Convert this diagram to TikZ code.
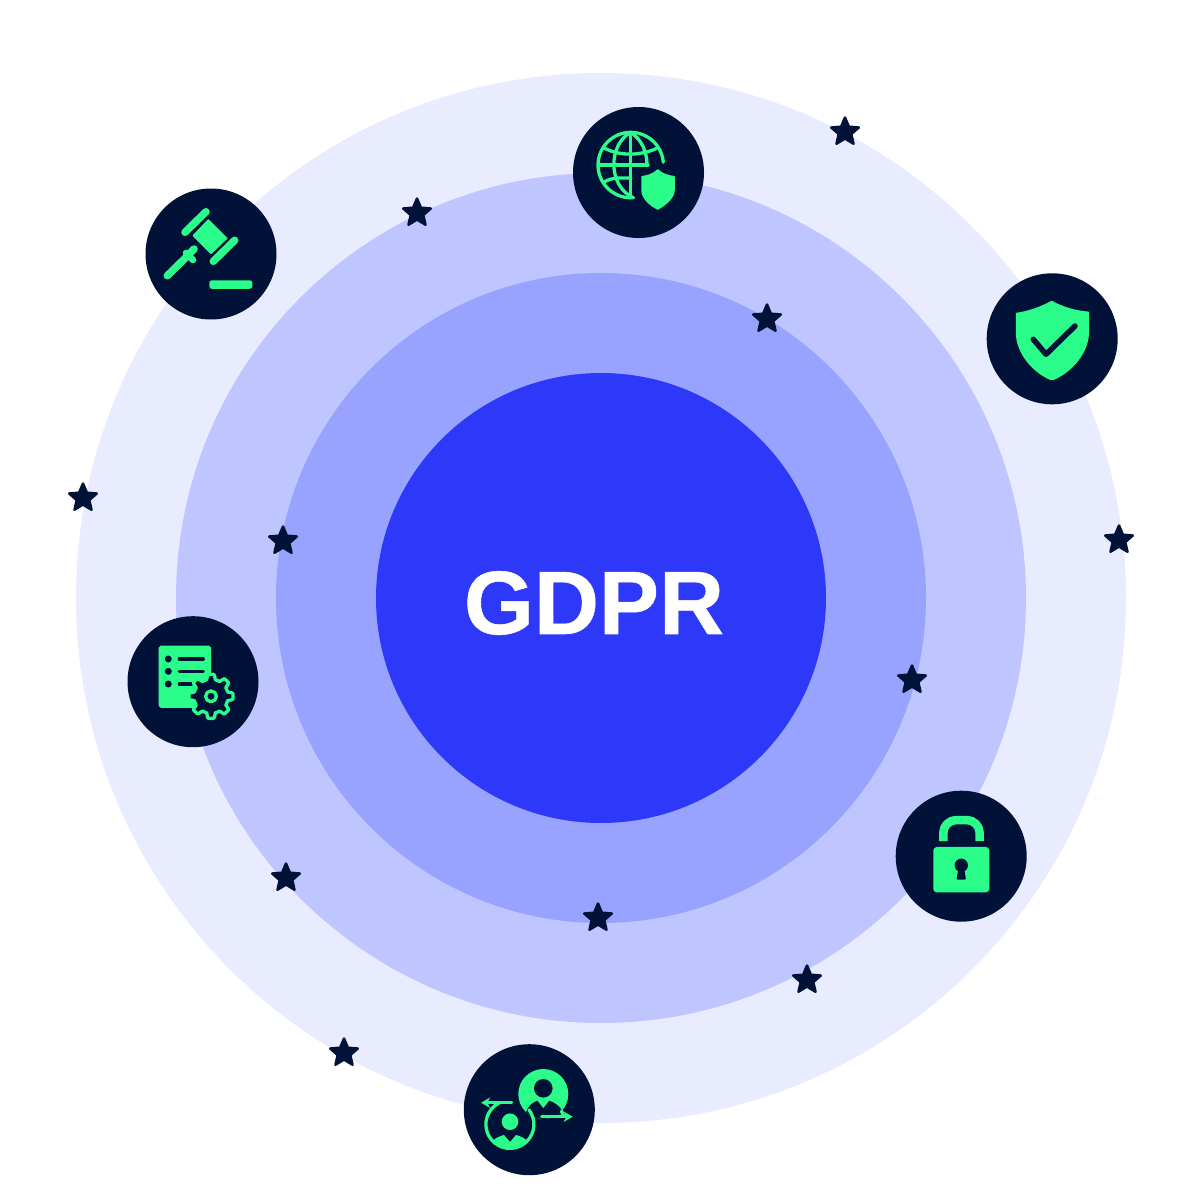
\documentclass[tikz,border=0pt]{standalone}
\usepackage{fontspec}
\usetikzlibrary{positioning,arrows.meta,shapes.geometric}
\newfontfamily\gdprfont{Liberation Sans}[BoldFeatures={FakeBold=0.6}]
\newlength\px
\setlength\px{0.01cm}
\definecolor{ringfour}{HTML}{E9EBFF}
\definecolor{ringthree}{HTML}{BFC6FF}
\definecolor{ringtwo}{HTML}{98A3FF}
\definecolor{ringone}{HTML}{2D38F9}
\definecolor{icondark}{HTML}{001238}
\definecolor{icongreen}{HTML}{2BFD8B}

\begin{document}
\begin{tikzpicture}[
x=0.01cm,
y=-0.01cm,
ring/.style={circle,inner sep=0pt},
iconbadge/.style={circle,fill=icondark,minimum size=131\px,inner sep=0pt},
starmark/.style={star,star points=5,star point ratio=2.2,fill=icondark,draw=icondark,line join=round,line width=2.5\px,minimum size=29\px,inner sep=0pt},
iconfill/.style={fill=icongreen,draw=icongreen,line join=round,line width=1.5\px},
iconline/.style={draw=icongreen,line cap=round,line join=round,line width=#1\px},
iconline/.default=3.3,
darkline/.style={draw=icondark,line cap=round,line join=round,line width=#1\px},
peopletip/.style={-{Stealth[length=2.6pt,width=3pt]}}
]
\useasboundingbox (0,0) rectangle (1200,1200);

\node (outer) [ring,fill=ringfour,minimum size=1050\px] at (601,598) {};
\node (third) [ring,fill=ringthree,minimum size=850\px] at (601,598) {};
\node (second) [ring,fill=ringtwo,minimum size=650\px] at (601,598) {};
\node (core) [ring,fill=ringone,minimum size=450\px] at (601,598) {};
\node (gdpr) [text=white,inner sep=0pt,font=\gdprfont\bfseries\fontsize{25.6pt}{30pt}\selectfont] at (594,603) {GDPR};

\foreach \n/\x/\y in {a/845/132,b/417/213,c/767/319,d/83/498,e/283/541,f/1119/540,g/912/680,h/286/878,i/598/918,j/807/980,k/344/1053}
    \node (star\n) [starmark] at (\x,\y) {};

% gavel
\node (gavel) [iconbadge] at (211,254) {};
\fill[iconfill] (208.3,220)--(226.7,238.3)--(211,253.3)--(193.3,235.7)--cycle;
\draw[iconline=7.5] (185,232.3)--(206,211.7);
\draw[iconline=7.5] (213.3,261.3)--(234.7,240.3);
\draw[iconline=7.5] (167.3,275.7)--(186.7,256.7);
\draw[iconline=7.5] (186.7,256.7)--(194,249);
\draw[iconline=6.5] (186,253)--(193,260);
\fill[iconfill,rounded corners=2\px] (210,281) rectangle (251.6,288);

% globe
\node (globe) [iconbadge] at (638.5,172.5) {};
\draw[iconline] (663.3,162.2) arc[start angle=5,end angle=275,radius=32.7\px];
\draw[iconline] (630.7,132.3)--(630.7,197);
\draw[iconline] (599,165)--(648,165);
\draw[iconline] (630.7,132.3) .. controls (608,145) and (608,185) .. (632,197);
\draw[iconline] (630.7,132.3) .. controls (642,140) and (647,152) .. (647,165);
\draw[iconline] (605,148.5) .. controls (620,156) and (640,156) .. (656.5,148.5);
\draw[iconline] (605,181.5) .. controls (613,177) and (622,178) .. (631,178);
\fill[iconfill] (657.7,170) .. controls (662,174) and (668,176) .. (674,176.7)
    -- (674,190) .. controls (674,198) and (665,205) .. (657.7,209)
    .. controls (650,205) and (642,198) .. (642,190) -- (642,176.7)
    .. controls (648,176) and (654,174) .. (657.7,170) -- cycle;

% shield
\node (shield) [iconbadge] at (1052.2,338.8) {};
\fill[iconfill] (1051.7,301.5) .. controls (1062,307.5) and (1076,311.5) .. (1088.3,312.3)
    -- (1088.3,332) .. controls (1088.3,352) and (1072,371) .. (1054,379)
    .. controls (1053,379.3) and (1051,379.3) .. (1050,379)
    .. controls (1032,371) and (1016.5,352) .. (1016.5,332) -- (1016.5,313.5)
    .. controls (1028,312) and (1041,307.5) .. (1051.7,301.5) -- cycle;
\draw[darkline=5.5] (1033.3,339.3)--(1046,354.3)--(1075,326);

% settings
\node (settings) [iconbadge] at (193,681.7) {};
\fill[iconfill,rounded corners=1.5\px] (159.4,646.4) rectangle (210.3,707);
\foreach \y in {659,671.3,684}
    \fill[icondark] (168.3,\y) circle[radius=3.5\px];
\draw[darkline=3.2] (179.3,659)--(203.3,659);
\draw[darkline=3.2] (179.3,671.3)--(203.3,671.3);
\draw[darkline=3.2] (179.3,684)--(191.7,684);
\draw[iconline,fill=icondark] plot[domain=0:360,samples=145] ({211+(19.6+2.5*max(-1,min(1,2.5*cos(8*\x))))*cos(\x)},{696.3+(19.6+2.5*max(-1,min(1,2.5*cos(8*\x))))*sin(\x)}) -- cycle;
\draw[iconline] (211,696.3) circle[radius=5.4\px];

% lock
\node (lock) [iconbadge] at (961.2,856.2) {};
\draw[iconline=8.5,line cap=butt,rounded corners=13\px] (943.3,841)--(943.3,820)--(979.7,820)--(979.7,841);
\fill[iconfill,rounded corners=3\px] (934,847.7) rectangle (988.6,891.6);
\fill[icondark] (961.3,865.3) circle[radius=6.7\px];
\fill[icondark,rounded corners=1\px] (958.5,868)--(956.5,879.5)--(966,879.5)--(964,868)--cycle;

% people
\node (people) [iconbadge] at (529.3,1109.7) {};
\fill[icongreen] (543.3,1094) circle[radius=25\px];
\begin{scope}
\clip (543.3,1094) circle[radius=25\px];
\fill[icondark] (543.3,1088.3) circle[radius=9.3\px];
\fill[icondark] (526,1112) .. controls (528,1106) and (533,1102) .. (537.3,1100.7)
    -- (543.3,1108.3) -- (549.3,1100.7)
    .. controls (554,1102) and (560,1106) .. (563,1112) -- (560,1130) -- (530,1130) -- cycle;
\end{scope}
\draw[iconline] (561.5,1111) .. controls (562,1114) and (564,1116.7) .. (566,1116.7);
\draw[iconline,peopletip] (541.7,1116.7)--(572.7,1116.7);
\draw[iconline,peopletip] (511.7,1102.7)--(481,1102.7);
\draw[iconline] (499,1103) arc[start angle=117,end angle=397,radius=24\px];
\fill[icongreen] (510,1121.7) circle[radius=8.3\px];
\begin{scope}
\clip (510,1125) circle[radius=23\px];
\fill[icongreen] (493,1150) -- (493,1141) .. controls (495,1138) and (500,1136) .. (504,1135)
    -- (510,1142) -- (516,1135)
    .. controls (520,1136) and (525,1138) .. (527,1141) -- (527,1150) -- cycle;
\end{scope}

\end{tikzpicture}
\end{document}
